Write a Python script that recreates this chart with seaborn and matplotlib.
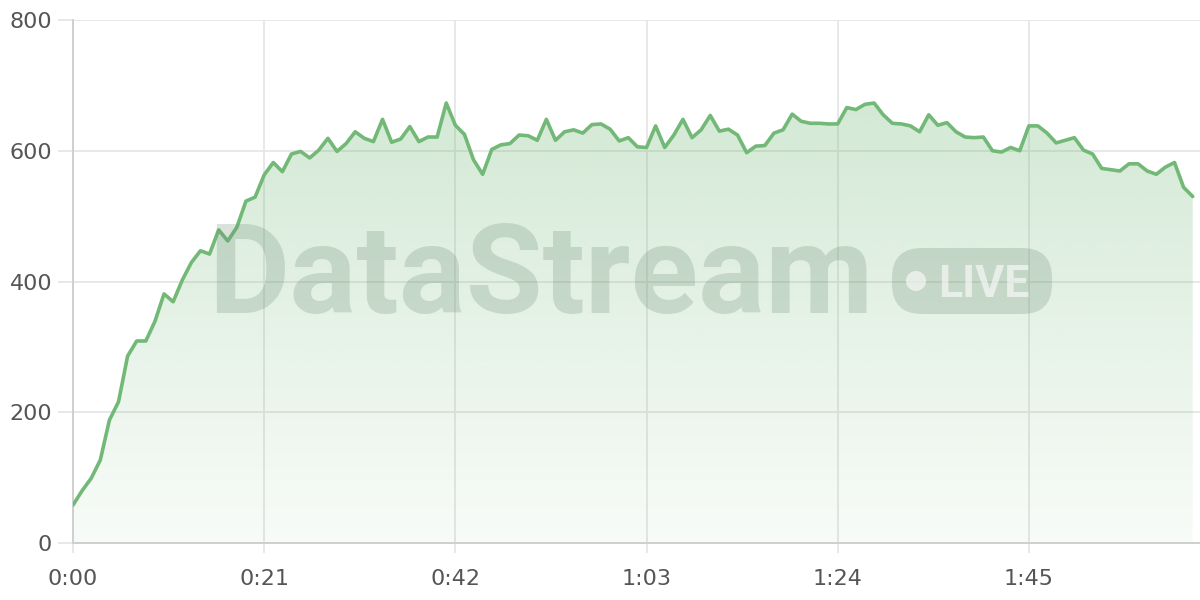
import numpy as np
import pandas as pd
import seaborn as sns
import matplotlib
matplotlib.use("Agg")
import matplotlib.pyplot as plt
from matplotlib.patches import FancyBboxPatch, Circle
from matplotlib.colors import to_rgb

# ---------------- data ----------------
seconds = list(range(124))
viewers = [
    58, 80, 99, 127, 188, 216, 286, 309, 309, 339,
    381, 369, 402, 429, 447, 442, 479, 462, 483, 523,
    529, 563, 582, 568, 595, 599, 589, 601, 619, 599,
    611, 629, 619, 614, 648, 613, 618, 637, 614, 621,
    621, 673, 639, 625, 586, 564, 602, 609, 611, 624,
    623, 616, 648, 616, 629, 632, 627, 640, 641, 633,
    615, 620, 606, 605, 638, 605, 624, 648, 620, 632,
    654, 630, 633, 624, 597, 607, 608, 627, 632, 656,
    645, 642, 642, 641, 641, 666, 663, 671, 673, 655,
    642, 641, 638, 629, 655, 639, 643, 629, 621, 620,
    621, 600, 598, 605, 600, 638, 638, 627, 612, 616,
    620, 601, 595, 573, 571, 569, 580, 580, 569, 564,
    575, 582, 544, 530,
]
x_tick_positions = [0, 21, 42, 63, 84, 105]
x_tick_labels = ["0:00", "0:21", "0:42", "1:03", "1:24", "1:45"]
y_ticks = [0, 200, 400, 600, 800]
watermark_text = "DataStream"
badge_text = "LIVE"

df = pd.DataFrame({"t": seconds, "v": viewers})

# ---------------- style ----------------
sns.set_theme(style="whitegrid")
plt.rcParams["font.family"] = ["DejaVu Sans"]

line_color = "#72b877"
grid_color = "#e6e6e6"
axis_color = "#cfcfcf"
label_color = "#555555"

fig = plt.figure(figsize=(12, 6), dpi=100)
ax = fig.add_axes([73 / 1200, 57 / 600, 1127 / 1200, 523 / 600])

# gradient fill under line
poly = ax.fill_between(df["t"], df["v"], 0, color="none", linewidth=0, zorder=1)
rgb = np.array(to_rgb(line_color))
n = 256
alphas = np.linspace(0.05, 0.32, n)[:, None]
img = np.zeros((n, 1, 4))
img[:, 0, :3] = rgb
img[:, :, 3] = alphas
im = ax.imshow(img, extent=[0, 123, 0, 700], origin="lower", aspect="auto",
               zorder=1, interpolation="bilinear")
im.set_clip_path(poly.get_paths()[0], transform=ax.transData)

sns.lineplot(data=df, x="t", y="v", ax=ax, color=line_color, linewidth=2.6,
             zorder=4)

ax.set_xlim(0, 123.8)
ax.set_ylim(0, 800)
ax.set_xticks(x_tick_positions)
ax.set_xticklabels(x_tick_labels)
ax.set_yticks(y_ticks)
ax.set_xlabel("")
ax.set_ylabel("")

ax.grid(True, color=grid_color, linewidth=1.3)
for s in ["top", "right"]:
    ax.spines[s].set_visible(False)
for s in ["left", "bottom"]:
    ax.spines[s].set_color(axis_color)
    ax.spines[s].set_linewidth(1.4)
    ax.spines[s].set_zorder(3)

ax.tick_params(axis="y", length=11, width=1.3, color=grid_color,
               labelsize=16, labelcolor=label_color, pad=4, left=True)
ax.tick_params(axis="x", length=7, width=1.3, color=grid_color,
               labelsize=16, labelcolor=label_color, pad=12, bottom=True)

# watermark
wm_color = "#6f8f77"
wm_alpha = 0.25
fig.text(208 / 1200, 1 - 313 / 600, watermark_text, fontsize=90,
         fontweight="bold", family="Roboto", color=wm_color, alpha=wm_alpha,
         ha="left", va="baseline", zorder=5)
badge = FancyBboxPatch((8.92, 2.86), 1.60, 0.66,
                       boxstyle="round,pad=0,rounding_size=0.3",
                       transform=fig.dpi_scale_trans, facecolor=wm_color,
                       edgecolor="none", alpha=wm_alpha, zorder=5)
fig.patches.append(badge)
dot = Circle((9.16, 3.19), 0.1, transform=fig.dpi_scale_trans,
             facecolor="white", edgecolor="none", alpha=0.6, zorder=6)
fig.patches.append(dot)
fig.text(9.38 / 12, 3.03 / 6, badge_text, fontsize=32, family="Roboto",
         fontweight="bold", color="white", alpha=0.6, ha="left",
         va="baseline", zorder=6)

fig.savefig("out.png", dpi=100, facecolor="white")
